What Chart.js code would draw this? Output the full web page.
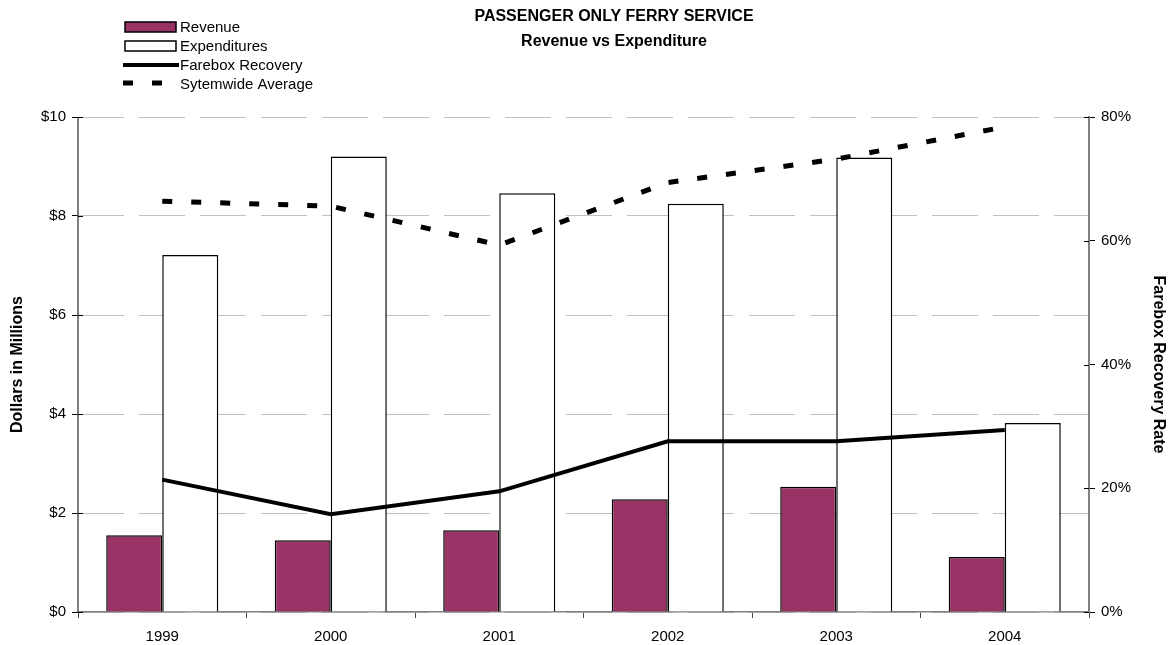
<!DOCTYPE html>
<html>
<head>
<meta charset="utf-8">
<script src="https://cdn.jsdelivr.net/npm/chart.js@4.4.1/dist/chart.umd.min.js"></script>
<style>
  html, body { margin: 0; padding: 0; background: #fff; }
  #wrap { width: 1171px; height: 645px; position: relative; }
</style>
</head>
<body>
<div id="wrap"><canvas id="c" width="1171" height="645"></canvas></div>
<script>
const categories = ['1999', '2000', '2001', '2002', '2003', '2004'];
const revenue = [1.55, 1.45, 1.65, 2.28, 2.53, 1.11];
const expenditures = [7.21, 9.20, 8.46, 8.25, 9.18, 3.82];
const fareboxRecovery = [21.4, 15.8, 19.5, 27.6, 27.6, 29.4];
const systemwideAverage = [66.4, 65.6, 59.3, 69.4, 73.2, 78.4];
const leftTicks = [0, 2, 4, 6, 8, 10];
const rightTicks = [0, 20, 40, 60, 80];
const titleLines = ['PASSENGER ONLY FERRY SERVICE', 'Revenue vs Expenditure'];
const legendLabels = ['Revenue', 'Expenditures', 'Farebox Recovery', 'Sytemwide Average'];

const FONT = 'Arial, "Liberation Sans", sans-serif';

const decorPlugin = {
  id: 'decor',
  afterDraw(chart) {
    const ctx = chart.ctx;
    ctx.save();
    // Title
    ctx.fillStyle = '#000';
    ctx.textAlign = 'center';
    ctx.textBaseline = 'middle';
    ctx.font = 'bold 16px ' + FONT;
    ctx.fillText(titleLines[0], 614, 17);
    ctx.fillText(titleLines[1], 614, 42);

    // Legend
    const rowY = [27, 46, 65, 84];
    ctx.textAlign = 'left';
    ctx.font = '15px ' + FONT;
    ctx.fillStyle = '#993366';
    ctx.fillRect(125, 22, 51, 10);
    ctx.strokeStyle = '#000';
    ctx.lineWidth = 1.5;
    ctx.strokeRect(125, 22, 51, 10);
    ctx.fillStyle = '#fff';
    ctx.fillRect(125, 41, 51, 10);
    ctx.strokeRect(125, 41, 51, 10);
    ctx.lineWidth = 4;
    ctx.beginPath();
    ctx.moveTo(123, rowY[2]);
    ctx.lineTo(179, rowY[2]);
    ctx.stroke();
    ctx.beginPath();
    ctx.moveTo(123, rowY[3] - 1);
    ctx.lineTo(133, rowY[3] - 1);
    ctx.moveTo(152, rowY[3] - 1);
    ctx.lineTo(162, rowY[3] - 1);
    ctx.lineWidth = 5;
    ctx.stroke();
    ctx.fillStyle = '#000';
    legendLabels.forEach((t, i) => ctx.fillText(t, 180, rowY[i] + 1));

    // left axis line (solid) and inner tick marks
    const y = chart.scales.y;
    const area = chart.chartArea;
    ctx.strokeStyle = '#555';
    ctx.lineWidth = 1.5;
    ctx.beginPath();
    ctx.moveTo(y.right, area.top);
    ctx.lineTo(y.right, area.bottom);
    ctx.stroke();
    ctx.strokeStyle = '#000';
    ctx.lineWidth = 1;
    y.ticks.forEach(t => {
      const py = Math.round(y.getPixelForValue(t.value)) + 0.5;
      ctx.beginPath();
      ctx.moveTo(y.right, py);
      ctx.lineTo(y.right + 5, py);
      ctx.stroke();
    });
    const y1 = chart.scales.y1;
    y1.ticks.forEach(t => {
      const py = Math.round(y1.getPixelForValue(t.value)) + 0.5;
      ctx.beginPath();
      ctx.moveTo(y1.left - 5, py);
      ctx.lineTo(y1.left, py);
      ctx.stroke();
    });
    ctx.restore();
  }
};

new Chart(document.getElementById('c'), {
  type: 'bar',
  data: {
    labels: categories,
    datasets: [
      {
        type: 'line', label: legendLabels[2], data: fareboxRecovery, yAxisID: 'y1',
        borderColor: '#000', borderWidth: 4, pointRadius: 0, tension: 0, order: 0,
        borderCapStyle: 'butt', borderJoinStyle: 'miter'
      },
      {
        type: 'line', label: legendLabels[3], data: systemwideAverage, yAxisID: 'y1',
        borderColor: '#000', borderWidth: 5, borderDash: [10, 19], pointRadius: 0, tension: 0, order: 0,
        borderCapStyle: 'butt'
      },
      {
        label: legendLabels[0], data: revenue, yAxisID: 'y',
        backgroundColor: '#993366', borderColor: '#000', borderWidth: 1.5, order: 1,
        barPercentage: 1, categoryPercentage: 0.665
      },
      {
        label: legendLabels[1], data: expenditures, yAxisID: 'y',
        backgroundColor: '#fff', borderColor: '#000', borderWidth: 1.5, order: 1,
        barPercentage: 1, categoryPercentage: 0.665
      }
    ]
  },
  options: {
    responsive: false,
    animation: false,
    devicePixelRatio: 1,
    layout: { padding: { top: 117, left: 0, right: 0, bottom: 0 } },
    plugins: { legend: { display: false }, title: { display: false }, tooltip: { enabled: false } },
    scales: {
      x: {
        offset: true,
        grid: { offset: true, drawOnChartArea: false, tickLength: 6, tickColor: '#444', lineWidth: 1 },
        border: { color: '#808080', width: 1.5 },
        ticks: { color: '#000', font: { family: FONT, size: 15 }, padding: 10, maxRotation: 0 },
        afterFit(s) { s.height = 33; }
      },
      y: {
        position: 'left', min: 0, max: 10,
        afterBuildTicks(s) { s.ticks = leftTicks.map(v => ({ value: v })); },
        grid: { color: '#c0c0c0', lineWidth: 1, borderDash: [46, 15], tickLength: 6, tickColor: '#000', tickBorderDash: [] },
        border: { display: false, color: '#555', width: 1.5, dash: [46, 15], dashOffset: 0 },
        ticks: { color: '#000', font: { family: FONT, size: 15 }, padding: 6, callback: v => '$' + v },
        title: { display: true, text: 'Dollars in Millions', color: '#000', font: { family: FONT, size: 16, weight: 'bold' }, padding: { top: 8, bottom: 0 } },
        afterFit(s) { s.width = 78; }
      },
      y1: {
        position: 'right', min: 0, max: 80,
        afterBuildTicks(s) { s.ticks = rightTicks.map(v => ({ value: v })); },
        grid: { drawOnChartArea: false, tickLength: 6, tickColor: '#000' },
        border: { color: '#808080', width: 2 },
        ticks: { color: '#000', font: { family: FONT, size: 15 }, padding: 6, callback: v => v + '%' },
        title: { display: true, text: 'Farebox Recovery Rate', color: '#000', font: { family: FONT, size: 16, weight: 'bold' }, padding: { top: 3, bottom: 0 } },
        afterFit(s) { s.width = 82; }
      }
    }
  },
  plugins: [decorPlugin]
});
</script>
</body>
</html>
